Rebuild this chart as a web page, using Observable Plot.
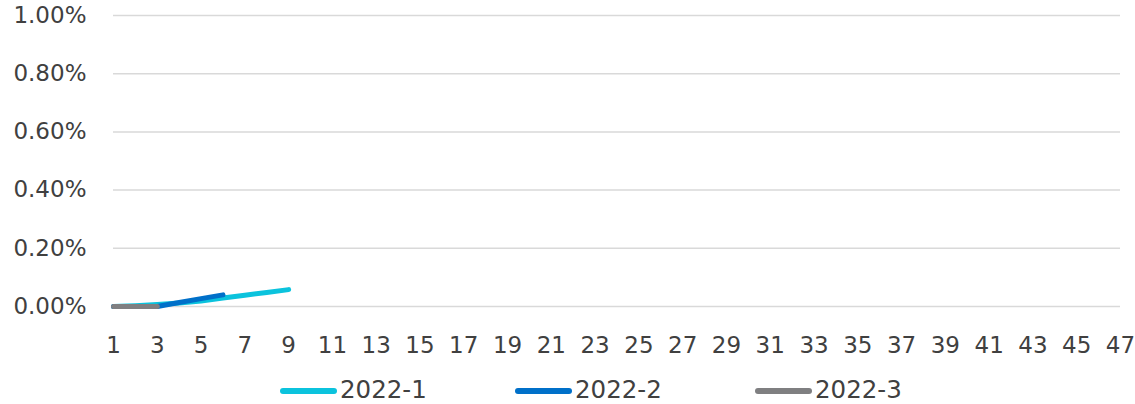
<!DOCTYPE html>
<html>
<head>
<meta charset="utf-8">
<script src="https://cdn.jsdelivr.net/npm/d3@7"></script>
<script src="https://cdn.jsdelivr.net/npm/@observablehq/plot@0.6"></script>
<style>
  body { margin: 0; background: #fff; font-family: "DejaVu Sans", sans-serif; }
  #wrap { position: relative; width: 1135px; height: 404px; overflow: hidden; }
  #legend { position: absolute; left: 0; top: 370px; }
</style>
</head>
<body>
<div id="wrap"><div id="chart"></div><svg id="legend" width="1135" height="34"></svg></div>
<script>
const xTicks = [1,3,5,7,9,11,13,15,17,19,21,23,25,27,29,31,33,35,37,39,41,43,45,47];
const yTicks = [0, 0.002, 0.004, 0.006, 0.008, 0.010];
const seriesNames = ["2022-1", "2022-2", "2022-3"];
const seriesColors = ["#0BC3DD", "#0070C9", "#7F7F81"];
const weeks1 = [1,2,3,4,5,6,7,8,9];
const values1 = [0, 0.00003, 0.00007, 0.00012, 0.00019, 0.00029, 0.00039, 0.00048, 0.00058];
const weeks2 = [1,2,3,4,5,6];
const values2 = [0, 0, 0, 0.00014, 0.00027, 0.00040];
const weeks3 = [1,2,3];
const values3 = [0, 0, 0];

const toRows = (w, v, s) => w.map((x, i) => ({x, y: v[i], s}));
const rows = [
  ...toRows(weeks1, values1, seriesNames[0]),
  ...toRows(weeks2, values2, seriesNames[1]),
  ...toRows(weeks3, values3, seriesNames[2])
];

const plot = Plot.plot({
  width: 1135,
  height: 370,
  marginTop: 15,
  marginBottom: 64,
  marginLeft: 113,
  marginRight: 15,
  style: { fontFamily: "DejaVu Sans, sans-serif", fontSize: "23px", color: "#404040", background: "#fff" },
  x: { domain: [1, 47], label: null },
  y: { domain: [0, 0.01], label: null },
  color: { domain: seriesNames, range: seriesColors },
  marks: [
    Plot.gridY(yTicks, { stroke: "#d9d9d9", strokeOpacity: 1, strokeWidth: 1.5 }),
    Plot.axisX({ ticks: xTicks, tickSize: 0, tickPadding: 30, tickFormat: d => String(d), label: null, fill: "#404040" }),
    Plot.axisY({ ticks: yTicks, tickSize: 0, tickPadding: 27, tickFormat: d => (d * 100).toFixed(2) + "%", label: null, fill: "#404040" }),
    Plot.line(rows, { x: "x", y: "y", z: "s", stroke: "s", strokeWidth: 5, strokeLinecap: "round", strokeLinejoin: "round" })
  ]
});
document.getElementById("chart").appendChild(plot);

// legend
const legendX = [280, 515, 755];
const lg = d3.select("#legend");
seriesNames.forEach((n, i) => {
  lg.append("line")
    .attr("x1", legendX[i] + 3).attr("x2", legendX[i] + 54)
    .attr("y1", 21).attr("y2", 21)
    .attr("stroke", seriesColors[i]).attr("stroke-width", 6).attr("stroke-linecap", "round");
  lg.append("text")
    .attr("x", legendX[i] + 60).attr("y", 28)
    .attr("font-family", "DejaVu Sans, sans-serif").attr("font-size", 24.5)
    .attr("fill", "#404040")
    .text(n);
});
</script>
</body>
</html>
